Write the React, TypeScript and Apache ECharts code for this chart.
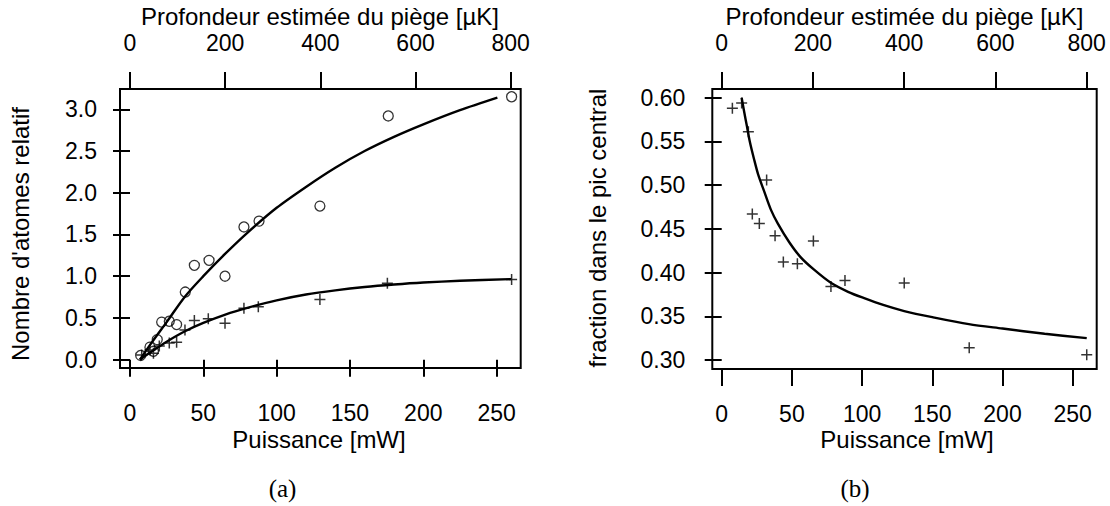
import React, { useEffect, useRef } from "react";
import * as echarts from "echarts";

// Tick values
const powerTicks = [0, 50, 100, 150, 200, 250];
const depthTicks = [0, 200, 400, 600, 800];
const atomTicks = [0, 0.5, 1.0, 1.5, 2.0, 2.5, 3.0];
const fractionTicks = [0.3, 0.35, 0.4, 0.45, 0.5, 0.55, 0.6];

// (a) circles
const circlePower = [7.3, 13.6, 16, 18.6, 21.6, 26.8, 31.8, 37.7, 43.9, 53.9, 64.8, 77.7, 88, 129.5, 176.1, 260.2];
const circleAtoms = [0.05, 0.15, 0.1, 0.24, 0.45, 0.46, 0.42, 0.81, 1.13, 1.19, 1.0, 1.59, 1.66, 1.84, 2.92, 3.15];

// (a) crosses
const crossPower = [8, 13.6, 16, 20, 26.8, 31.8, 37.5, 43.9, 53.4, 64.8, 77.7, 87.5, 129.5, 175.5, 260.2];
const crossAtoms = [0.056, 0.116, 0.077, 0.165, 0.2, 0.21, 0.355, 0.47, 0.49, 0.435, 0.615, 0.635, 0.72, 0.915, 0.96];

// (a) fitted curves
const upperCurvePower = [6.8, 15, 25, 37.7, 50, 65, 80, 100, 120, 140, 160, 180, 200, 225, 250.5];
const upperCurveAtoms = [0, 0.21, 0.45, 0.76, 1.0, 1.27, 1.52, 1.82, 2.07, 2.3, 2.5, 2.67, 2.82, 2.99, 3.14];
const lowerCurvePower = [6.8, 15, 25, 37.5, 50, 65, 80, 100, 120, 140, 160, 180, 200, 225, 260];
const lowerCurveAtoms = [0, 0.1, 0.215, 0.34, 0.44, 0.54, 0.62, 0.71, 0.78, 0.83, 0.87, 0.9, 0.924, 0.945, 0.965];

// (b) crosses
const fracPower = [7.6, 14.2, 19, 21.8, 26.8, 32, 38, 43.9, 53.9, 65.3, 77.8, 87.8, 130, 176.3, 260];
const fracValues = [0.588, 0.594, 0.561, 0.467, 0.456, 0.506, 0.442, 0.412, 0.41, 0.436, 0.384, 0.391, 0.388, 0.314, 0.306];

// (b) fitted curve
const fracCurvePower = [14.2, 16, 18, 20, 23, 26, 30, 35, 40, 48, 56, 66, 78, 90, 101, 115, 130, 150, 176, 200, 230, 260];
const fracCurveValues = [0.6, 0.584, 0.567, 0.55, 0.53, 0.512, 0.494, 0.472, 0.456, 0.435, 0.418, 0.403, 0.388, 0.378, 0.371, 0.363, 0.356, 0.349, 0.341, 0.336, 0.33, 0.325];

const pairs = (xs: number[], ys: number[]) => xs.map((x, i) => [x, ys[i]]);

const FONT = "Liberation Sans";
const TICK_FONT = 23;
const NAME_FONT = 24;

export default function App() {
  const ref = useRef<HTMLDivElement>(null);

  useEffect(() => {
    if (!ref.current) return;
    const chart = echarts.init(ref.current, undefined, { renderer: "svg" });

    const tick = (values: number[]) => ({
      show: true,
      inside: false,
      length: 17,
      customValues: values,
      lineStyle: { color: "#000", width: 2 },
    });
    const label = (values: number[], margin: number, fmt?: (v: number) => string) => ({
      show: true,
      customValues: values,
      margin,
      color: "#000",
      fontFamily: FONT,
      fontSize: TICK_FONT,
      formatter: fmt ? (v: number) => fmt(v) : undefined,
    });
    const baseAxis = {
      type: "value" as const,
      axisLine: { show: false },
      splitLine: { show: false },
    };

    const cross = "path://M0,5L10,5M5,0L5,10";
    const crossStyle = { color: "rgba(0,0,0,0)", borderColor: "#000", borderWidth: 1.5 };
    const curveStyle = { color: "#000", width: 2.4 };

    const textStyle = (text: string, size = NAME_FONT, family = FONT) => ({
      text,
      fill: "#000",
      font: `${size}px "${family}"`,
      align: "center",
      verticalAlign: "middle",
    });

    const curve = (xi: number, yi: number, xs: number[], ys: number[]) => ({
      type: "line",
      xAxisIndex: xi,
      yAxisIndex: yi,
      data: pairs(xs, ys),
      showSymbol: false,
      smooth: 0.3,
      lineStyle: curveStyle,
      clip: false,
    });

    chart.setOption({
      animation: false,
      backgroundColor: "#fff",
      grid: [
        { left: 120, top: 89, width: 400.7, height: 279, show: true, borderColor: "#000", borderWidth: 2, backgroundColor: "transparent" },
        { left: 712.3, top: 89, width: 384.4, height: 280, show: true, borderColor: "#000", borderWidth: 2, backgroundColor: "transparent" },
      ],
      xAxis: [
        { ...baseAxis, gridIndex: 0, position: "bottom", min: -6.8, max: 266.4, axisTick: tick(powerTicks), axisLabel: label(powerTicks, 33) },
        { ...baseAxis, gridIndex: 0, position: "top", min: -20.96, max: 820.96, axisTick: tick(depthTicks), axisLabel: label(depthTicks, 35) },
        { ...baseAxis, gridIndex: 1, position: "bottom", min: -6.7, max: 267.1, axisTick: tick(powerTicks), axisLabel: label(powerTicks, 33) },
        { ...baseAxis, gridIndex: 1, position: "top", min: -20.6, max: 821.9, axisTick: tick(depthTicks), axisLabel: label(depthTicks, 35) },
      ],
      yAxis: [
        { ...baseAxis, gridIndex: 0, position: "left", min: -0.1, max: 3.243, axisTick: tick(atomTicks), axisLabel: label(atomTicks, 23, (v) => v.toFixed(1)) },
        { ...baseAxis, gridIndex: 1, position: "left", min: 0.2897, max: 0.61, axisTick: tick(fractionTicks), axisLabel: label(fractionTicks, 27, (v) => v.toFixed(2)) },
      ],
      series: [
        curve(0, 0, upperCurvePower, upperCurveAtoms),
        curve(0, 0, lowerCurvePower, lowerCurveAtoms),
        {
          type: "scatter",
          xAxisIndex: 0,
          yAxisIndex: 0,
          data: pairs(circlePower, circleAtoms),
          symbol: "circle",
          symbolSize: 10,
          itemStyle: { color: "rgba(0,0,0,0)", borderColor: "#000", borderWidth: 1.3 },
        },
        {
          type: "scatter",
          xAxisIndex: 0,
          yAxisIndex: 0,
          data: pairs(crossPower, crossAtoms),
          symbol: cross,
          symbolSize: 11,
          itemStyle: crossStyle,
        },
        curve(2, 1, fracCurvePower, fracCurveValues),
        {
          type: "scatter",
          xAxisIndex: 2,
          yAxisIndex: 1,
          data: pairs(fracPower, fracValues),
          symbol: cross,
          symbolSize: 11,
          itemStyle: crossStyle,
        },
      ],
      graphic: [
        { type: "text", x: 320, y: 16, style: textStyle("Profondeur estimée du piège [µK]") },
        { type: "text", x: 904.5, y: 16, style: textStyle("Profondeur estimée du piège [µK]") },
        { type: "text", x: 319, y: 439, style: textStyle("Puissance [mW]") },
        { type: "text", x: 907, y: 439, style: textStyle("Puissance [mW]") },
        { type: "text", x: 20, y: 234, rotation: Math.PI / 2, style: textStyle("Nombre d'atomes relatif") },
        { type: "text", x: 597, y: 228, rotation: Math.PI / 2, style: textStyle("fraction dans le pic central") },
        { type: "text", x: 282.5, y: 488, style: textStyle("(a)", 25, "Liberation Serif") },
        { type: "text", x: 855, y: 488, style: textStyle("(b)", 25, "Liberation Serif") },
      ],
    });

    return () => chart.dispose();
  }, []);

  return (
    <div
      ref={ref}
      style={{ position: "absolute", left: 0, top: 0, width: 1110, height: 506, background: "#fff" }}
    />
  );
}
